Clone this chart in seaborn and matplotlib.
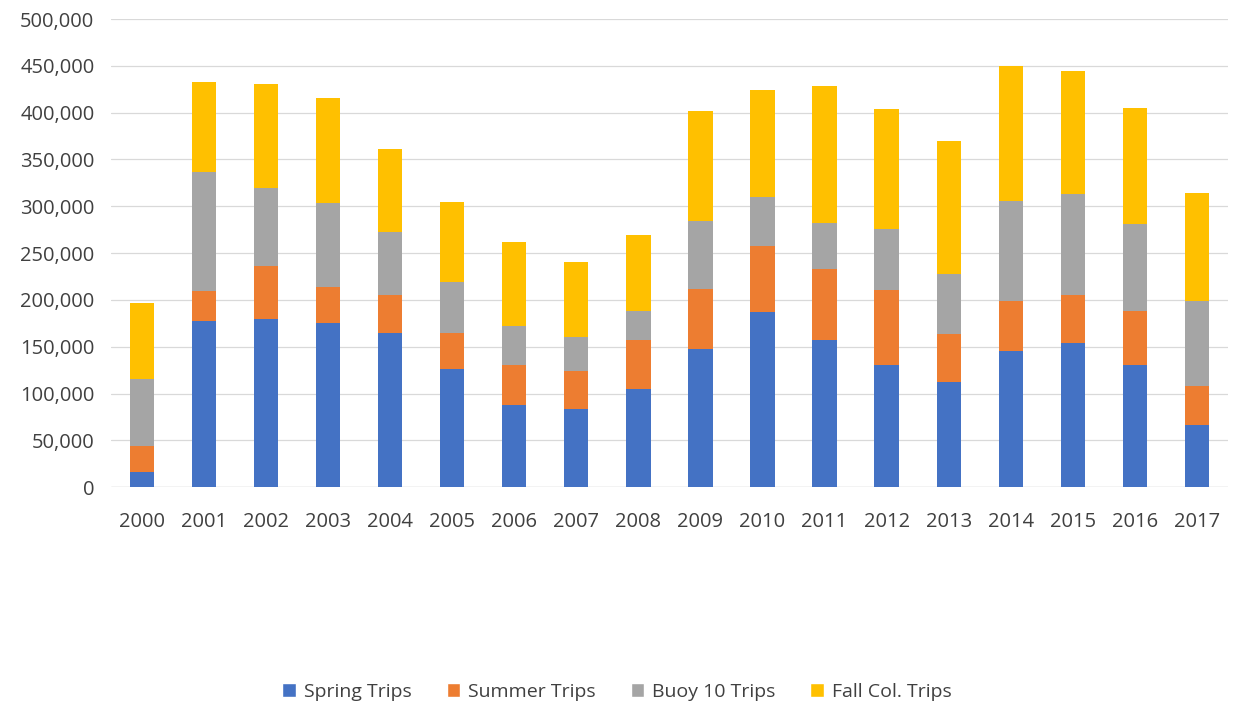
import matplotlib
matplotlib.use("Agg")
from matplotlib import pyplot as plt
from matplotlib.patches import Patch
from matplotlib.ticker import FuncFormatter
import pandas as pd
import seaborn as sns

years = [str(y) for y in range(2000, 2018)]
spring = [16, 177, 180, 175, 165, 126, 88, 84, 105, 148, 187, 157, 130, 112, 145, 154, 130, 66]
summer = [28, 33, 56, 39, 40, 39, 43, 40, 52, 64, 71, 76, 81, 52, 54, 51, 58, 42]
buoy10 = [72, 127, 84, 89, 68, 54, 41, 36, 31, 72, 52, 49, 65, 64, 107, 108, 93, 91]
fall_col = [81, 96, 111, 113, 88, 86, 90, 80, 81, 118, 114, 147, 128, 142, 144, 131, 124, 115]

series_names = ["Spring Trips", "Summer Trips", "Buoy 10 Trips", "Fall Col. Trips"]
series_colors = ["#4472C4", "#ED7D31", "#A5A5A5", "#FFC000"]

df = pd.DataFrame({
    "year": years,
    "Spring Trips": [v * 1000 for v in spring],
    "Summer Trips": [v * 1000 for v in summer],
    "Buoy 10 Trips": [v * 1000 for v in buoy10],
    "Fall Col. Trips": [v * 1000 for v in fall_col],
})
cum = df[series_names].cumsum(axis=1)
cum["year"] = df["year"]

sns.set_style("white")
plt.rcParams["font.family"] = ["Open Sans", "DejaVu Sans"]

fig = plt.figure(figsize=(12.34, 7.06), dpi=100)
ax = fig.add_axes([0.09, 0.31, 0.905, 0.663])

# draw from the top layer down so each stack shows through
for name, color in reversed(list(zip(series_names, series_colors))):
    sns.barplot(data=cum, x="year", y=name, color=color, width=0.39,
                saturation=1, linewidth=0, ax=ax, zorder=2)

ax.set_ylim(0, 500000)
ax.set_yticks(range(0, 500001, 50000))
ax.yaxis.set_major_formatter(FuncFormatter(lambda v, p: f"{int(v):,}"))
ax.grid(axis="y", color="#d9d9d9", linewidth=0.9, zorder=0)
ax.set_axisbelow(True)
for s in ax.spines.values():
    s.set_visible(False)
ax.axhline(0, color="#d9d9d9", linewidth=1, zorder=1)
ax.set_xlabel("")
ax.set_ylabel("")
ax.tick_params(axis="both", length=0, labelsize=14.5, colors="#404040")
ax.tick_params(axis="y", pad=12)
ax.tick_params(axis="x", pad=18)
ax.set_xlim(-0.5, len(years) - 0.5)

handles = [Patch(facecolor=c, label=n) for n, c in zip(series_names, series_colors)]
fig.legend(handles=handles, loc="center", bbox_to_anchor=(0.5, 0.02), ncol=4,
           frameon=False, fontsize=14, handlelength=0.7, handleheight=0.7,
           handletextpad=0.4, columnspacing=1.8, labelcolor="#404040")

fig.savefig("out.png", dpi=100)
